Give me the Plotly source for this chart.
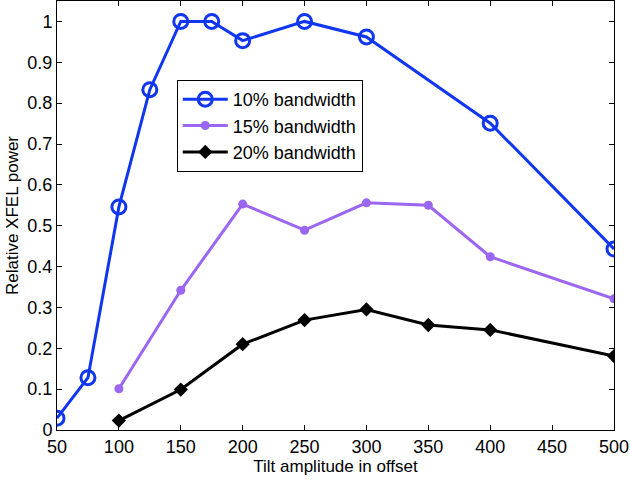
import plotly.graph_objects as go

# tilt amplitude values
x_10 = [50, 75, 100, 125, 150, 175, 200, 250, 300, 400, 500]
y_10 = [0.029, 0.128, 0.546, 0.833, 1.0, 1.0, 0.953, 1.0, 0.962, 0.751, 0.443]

x_15 = [100, 150, 200, 250, 300, 350, 400, 500]
y_15 = [0.101, 0.342, 0.553, 0.489, 0.556, 0.550, 0.424, 0.321]

x_20 = [100, 150, 200, 250, 300, 350, 400, 500]
y_20 = [0.023, 0.099, 0.210, 0.269, 0.295, 0.257, 0.245, 0.181]

x_ticks = [50, 100, 150, 200, 250, 300, 350, 400, 450, 500]
y_ticks = [0, 0.1, 0.2, 0.3, 0.4, 0.5, 0.6, 0.7, 0.8, 0.9, 1]
y_labels = ["0", "0.1", "0.2", "0.3", "0.4", "0.5", "0.6", "0.7", "0.8", "0.9", "1"]

fig = go.Figure()
fig.add_trace(go.Scatter(
    x=x_10, y=y_10, name="10% bandwidth", mode="lines+markers",
    line=dict(color="#1036f0", width=3),
    marker=dict(symbol="circle-open", size=14, color="#1036f0", line=dict(width=3)),
))
fig.add_trace(go.Scatter(
    x=x_15, y=y_15, name="15% bandwidth", mode="lines+markers",
    line=dict(color="#9a66f2", width=3),
    marker=dict(symbol="circle", size=9, color="#9a66f2"),
))
fig.add_trace(go.Scatter(
    x=x_20, y=y_20, name="20% bandwidth", mode="lines+markers",
    line=dict(color="black", width=3),
    marker=dict(symbol="diamond", size=11, color="black"),
))

axis_style = dict(
    showgrid=False, zeroline=False, showline=True, linecolor="black", linewidth=1,
    mirror="ticks", ticks="inside", ticklen=5, tickcolor="black",
    tickfont=dict(size=18, color="black"), automargin=False,
)
fig.update_xaxes(range=[50, 500], tickvals=x_ticks,
                 title=dict(text="Tilt amplitude in offset", font=dict(size=17, color="black"), standoff=2),
                 **axis_style)
fig.update_yaxes(range=[0, 1.05], tickvals=y_ticks, ticktext=y_labels,
                 title=dict(text="Relative XFEL power", font=dict(size=17, color="black"), standoff=4),
                 **axis_style)

fig.update_layout(
    width=630, height=479,
    margin=dict(l=57, r=16, t=1, b=49),
    plot_bgcolor="white", paper_bgcolor="white",
    font=dict(family="Liberation Sans, Arial, sans-serif", color="black"),
    legend=dict(x=0.215, y=0.816, xanchor="left", yanchor="top",
                bordercolor="black", borderwidth=1, bgcolor="white",
                font=dict(size=18), tracegroupgap=0, itemwidth=45),
    showlegend=True,
)

# page body has a default 8px margin; drop it so the figure sits at the corner
fig.write_html("out.html", config={"displayModeBar": False},
               post_script="document.body.style.margin='0';")
